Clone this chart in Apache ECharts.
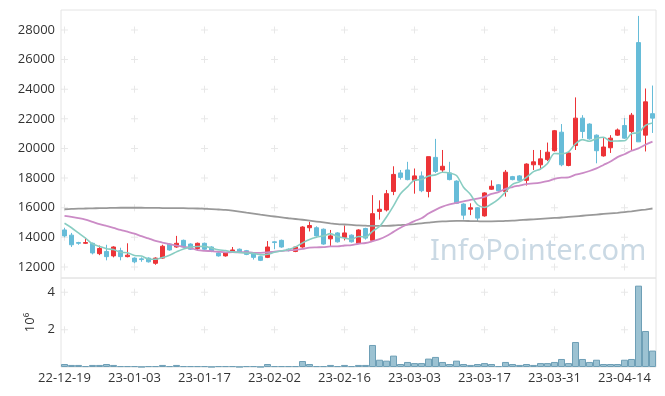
<!DOCTYPE html>
<html><head><meta charset="utf-8">
<script src="https://cdn.jsdelivr.net/npm/echarts@6/dist/echarts.min.js"></script>
<style>html,body{margin:0;padding:0;background:#fff}#c{width:665px;height:396px}</style>
</head><body><div id="c"></div>
<script>
var dates = ['22-12-19','22-12-20','22-12-21','22-12-22','22-12-23','22-12-26','22-12-27','22-12-28','22-12-29','23-01-02',
'23-01-03','23-01-04','23-01-05','23-01-06','23-01-09','23-01-10','23-01-11','23-01-12','23-01-13','23-01-16',
'23-01-17','23-01-18','23-01-19','23-01-20','23-01-25','23-01-26','23-01-27','23-01-30','23-01-31','23-02-01',
'23-02-02','23-02-03','23-02-06','23-02-07','23-02-08','23-02-09','23-02-10','23-02-13','23-02-14','23-02-15',
'23-02-16','23-02-17','23-02-20','23-02-21','23-02-22','23-02-23','23-02-24','23-02-27','23-02-28','23-03-02',
'23-03-03','23-03-06','23-03-07','23-03-08','23-03-09','23-03-10','23-03-13','23-03-14','23-03-15','23-03-16',
'23-03-17','23-03-20','23-03-21','23-03-22','23-03-23','23-03-24','23-03-27','23-03-28','23-03-29','23-03-30',
'23-03-31','23-04-03','23-04-04','23-04-05','23-04-06','23-04-07','23-04-10','23-04-11','23-04-12','23-04-13',
'23-04-14','23-04-17','23-04-18','23-04-19','23-04-20'];

var opens = [14500,14150,13650,13600,13600,12900,13050,12750,13100,12700,
12600,12550,12600,12250,12600,13550,13350,13800,13550,13250,
13600,13350,12950,12750,13000,13200,13100,12950,12700,12650,
13700,13800,13200,13050,13350,14650,14650,14550,13900,14300,
14000,14150,13600,14600,13800,15750,15850,17100,18350,18550,
17850,18150,17100,19400,18550,18350,17800,16250,15900,16000,
15450,17250,17550,17100,18100,18150,17850,18900,18900,19250,
19850,21100,18850,20200,22050,21650,20900,19500,20050,20900,
21550,21150,27150,20900,22350];

var closes = [14100,13500,13600,13650,12950,13250,12700,13350,12700,12800,
12350,12500,12350,12600,13400,13150,13600,13350,13200,13600,
13200,13050,12750,12950,13150,13000,12850,12650,12450,13350,
13650,13350,13100,13350,14700,14800,14100,13550,14100,13700,
14300,13700,14500,13950,15600,15900,16950,18250,18050,17900,
18150,17150,19450,18450,18800,17900,16300,15500,16000,15300,
17000,17450,17150,18400,17900,17850,18950,19100,19300,19750,
21200,18900,19700,22050,21150,20650,19850,20100,20700,21250,
20700,22250,20450,23150,22050];

var lows = [14000,13350,13500,13550,12850,12800,12450,12650,12450,12650,
12250,12350,12300,12150,12550,13100,13300,13300,13150,13100,
13150,13000,12700,12700,12950,12950,12800,12500,12400,12600,
13200,13300,13050,13000,13300,14400,14050,13500,13350,13650,
13800,13650,13550,13850,13750,15200,15750,16850,17900,17850,
16950,17050,16700,18350,18350,17850,16250,15200,15500,15050,
15400,17200,17100,16750,17850,17800,17500,18550,18550,19150,
19800,18800,18800,19900,20700,20600,19000,19450,19700,20850,
20650,19900,20450,19800,21050];

var highs = [14650,14300,13700,13950,13650,13450,13500,13400,13300,13600,
12650,12650,12650,12650,13500,13600,14100,13850,13600,13650,
13650,13400,13000,13000,13350,13250,13150,13000,12750,13750,
13750,13850,13250,13400,14750,15050,14750,14600,14500,14350,
14800,14200,14550,14650,16850,16500,17200,18800,18550,19100,
18650,18450,19450,20650,19900,19100,17850,16300,16300,16050,
17050,17850,17600,18550,18150,18200,19000,19900,19900,20400,
21250,21650,19750,23450,22250,21700,20950,20700,20900,21350,
22050,22400,28950,24050,24250];

var ma5 = [14950,14650,14300,13950,13560,13390,13230,13180,12990,12960,
12780,12740,12540,12520,12640,12800,13020,13220,13340,13380,
13390,13280,13160,13110,13020,12980,12940,12920,12820,12860,
12990,13090,13180,13360,13630,13860,14010,14100,14250,14050,
13950,13870,14060,14030,14410,14730,15380,16130,16950,17410,
17860,17900,18140,18220,18400,18350,18180,17390,16900,16200,
16020,16250,16580,17060,17580,17750,18050,18440,18620,18990,
19660,19650,19770,20320,20600,20490,20680,20760,20490,20510,
20520,21000,21070,21560,21720];

var ma20 = [15450,15380,15300,15200,15050,14900,14770,14640,14500,14380,
14250,14080,13930,13760,13650,13550,13450,13360,13280,13140,
13090,13070,13030,12990,13000,12990,13000,12960,12950,12980,
13040,13080,13120,13160,13220,13310,13330,13340,13390,13390,
13450,13480,13570,13620,13740,13880,14090,14370,14650,14880,
15100,15290,15610,15860,16070,16220,16330,16430,16530,16610,
16740,16930,17060,17280,17400,17500,17600,17640,17700,17790,
17950,18030,18050,18230,18340,18480,18660,18890,19120,19420,
19610,19850,20010,20250,20460];

var ma60 = [15900,15920,15940,15950,15960,15970,15980,15990,16000,16000,
16000,16000,15990,15990,15980,15980,15970,15970,15960,15950,
15930,15910,15880,15850,15800,15740,15670,15600,15530,15470,
15410,15350,15290,15240,15190,15130,15070,15010,14950,14900,
14870,14840,14810,14790,14770,14770,14780,14800,14830,14860,
14900,14950,15000,15050,15080,15100,15110,15110,15100,15090,
15080,15080,15090,15110,15130,15160,15190,15220,15250,15280,
15310,15340,15380,15420,15460,15500,15540,15580,15620,15660,
15710,15760,15820,15880,15950];

var volumes = [160000,110000,110000,50000,110000,110000,160000,110000,50000,50000,
50000,10000,50000,50000,110000,50000,110000,50000,50000,50000,
50000,10000,50000,50000,50000,10000,50000,50000,10000,160000,
50000,50000,50000,50000,320000,160000,50000,50000,110000,50000,
110000,50000,110000,110000,1180000,390000,340000,610000,160000,270000,
210000,210000,450000,540000,270000,160000,340000,160000,110000,160000,
210000,160000,50000,270000,160000,110000,160000,110000,210000,210000,
270000,430000,210000,1340000,430000,270000,390000,160000,160000,160000,
390000,430000,4360000,1930000,880000];

var priceTicks = [12000,14000,16000,18000,20000,22000,24000,26000,28000];
var volumeTicks = [2000000,4000000];
var labelEvery = 10;

var gridCols = [];
for (var i = 0; i < dates.length; i += labelEvery) gridCols.push(i);
var plusMain = [], plusVol = [];
gridCols.forEach(function(c){
  priceTicks.forEach(function(v){ plusMain.push([c, v]); });
  volumeTicks.forEach(function(v){ plusVol.push([c, v]); });
});

var ohlc = dates.map(function(d, i){ return [opens[i], closes[i], lows[i], highs[i]]; });

var plusPath = 'path://M3,0H4V3H7V4H4V7H3V4H0V3H3Z';
var txt = '#333';
var fontFam = '"Open Sans", "Noto Sans", sans-serif';

var chart = echarts.init(document.getElementById('c'), null, {renderer:'canvas'});
chart.setOption({
  animation: false,
  backgroundColor: '#fff',
  textStyle: {fontFamily: fontFam},
  grid: [
    {left: 61, right: 9, top: 10, height: 268, show: true, borderColor: '#e4e4e4', borderWidth: 1},
    {left: 61, right: 9, top: 278, height: 89, show: true, borderColor: '#e4e4e4', borderWidth: 1}
  ],
  xAxis: [
    {type: 'category', data: dates, gridIndex: 0, boundaryGap: true,
     axisLine: {show: false}, axisTick: {show: false}, axisLabel: {show: false}, splitLine: {show: false}},
    {type: 'category', data: dates, gridIndex: 1, boundaryGap: true,
     axisLine: {show: false}, axisTick: {show: false}, splitLine: {show: false},
     axisLabel: {interval: labelEvery - 1, color: txt, fontSize: 13, margin: 5, fontFamily: fontFam}}
  ],
  yAxis: [
    {type: 'value', gridIndex: 0, min: 11257, max: 29350,
     axisLine: {show: false}, axisTick: {show: false}, splitLine: {show: false},
     axisLabel: {customValues: priceTicks, color: txt, fontSize: 13, margin: 6, fontFamily: fontFam,
                 formatter: function(v){ return String(v); }}},
    {type: 'value', gridIndex: 1, min: 0, max: 4770000,
     axisLine: {show: false}, axisTick: {show: false}, splitLine: {show: false},
     axisLabel: {customValues: volumeTicks, color: txt, fontSize: 13, margin: 6, fontFamily: fontFam,
                 formatter: function(v){ return String(v / 1000000); }},
     name: '10\u2076', nameLocation: 'middle', nameRotate: 90, nameGap: 18,
     nameTextStyle: {color: txt, fontSize: 13, fontFamily: fontFam}}
  ],
  graphic: [{
    type: 'text', left: 430, top: 237, silent: true, z: 0,
    style: {text: 'InfoPointer.com', font: '29px "Noto Sans", sans-serif', fill: '#cad9e4'}
  }],
  series: [
    {type: 'scatter', xAxisIndex: 0, yAxisIndex: 0, data: plusMain, symbol: plusPath, symbolSize: 7,
     itemStyle: {color: '#e2e2e2'}, silent: true, z: 1},
    {type: 'scatter', xAxisIndex: 1, yAxisIndex: 1, data: plusVol, symbol: plusPath, symbolSize: 7,
     itemStyle: {color: '#e2e2e2'}, silent: true, z: 1},
    {type: 'candlestick', xAxisIndex: 0, yAxisIndex: 0, data: ohlc, barWidth: 5, z: 3,
     itemStyle: {color: '#ec3337', color0: '#66bcd8', borderColor: '#ec3337', borderColor0: '#66bcd8', borderWidth: 1}},
    {type: 'line', xAxisIndex: 0, yAxisIndex: 0, data: ma60, showSymbol: false, smooth: 0.3, z: 4,
     lineStyle: {color: '#999999', width: 1.8}},
    {type: 'line', xAxisIndex: 0, yAxisIndex: 0, data: ma20, showSymbol: false, smooth: 0.3, z: 4,
     lineStyle: {color: '#cb8bc6', width: 1.8}},
    {type: 'line', xAxisIndex: 0, yAxisIndex: 0, data: ma5, showSymbol: false, smooth: 0.3, z: 4,
     lineStyle: {color: '#88cdc2', width: 1.6}},
    {type: 'bar', xAxisIndex: 1, yAxisIndex: 1, data: volumes, barCategoryGap: '0%', z: 3,
     itemStyle: {color: '#9cc2d2', borderColor: '#6e9fb6', borderWidth: 1}}
  ]
});
</script></body></html>
